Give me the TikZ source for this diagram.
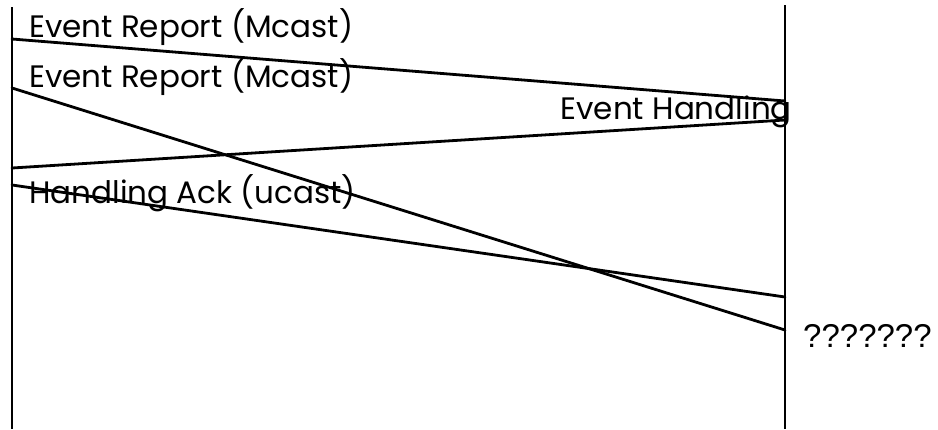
\documentclass[tikz,border=0pt]{standalone}
\usepackage{fontspec}
\setmainfont{Poppins}
\newfontfamily\qmarkfont{Liberation Sans}

\begin{document}
\begin{tikzpicture}[
  x=1pt,y=-1pt,
  every node/.style={inner sep=0pt,font=\fontsize{31}{36}\selectfont},
  life/.style={line width=2.8pt},
  msg/.style={line width=2.8pt,line cap=round},
  lbl/.style={anchor=base west},
  qlbl/.style={anchor=base west,font=\qmarkfont\fontsize{33}{38}\selectfont}
]
\useasboundingbox (0,0) rectangle (938,429);
% ================= lifelines =================
\coordinate (ltop) at (12,7);
\coordinate (lbot) at (12,429);
\coordinate (rtop) at (785,5);
\coordinate (rbot) at (785,429);
\draw[life] (ltop) -- (lbot);
\draw[life] (rtop) -- (rbot);
% ================= messages =================
\coordinate (l1) at (12,39);
\coordinate (l2) at (12,88);
\coordinate (l3) at (12,168);
\coordinate (l4) at (12,185);
\coordinate (r1) at (785,101);
\coordinate (r3) at (785,120);
\coordinate (r4) at (785,297);
\coordinate (r2) at (785,330);
\draw[msg] (l1) -- (r1);
\draw[msg] (l2) -- (r2);
\draw[msg] (r3) -- (l3);
\draw[msg] (l4) -- (r4);
% ================= labels =================
\node[lbl] (rep1) at (29,37) {Event Report (Mcast)};
\node[lbl] (rep2) at (29,87) {Event Report (Mcast)};
\node[lbl,anchor=base east] (hand) at (792,119) {Event Handling};
\node[lbl] (ack) at (29,203) {Handling Ack (ucast)};
\node[qlbl] (unk) at (803,347) {???????};
\end{tikzpicture}
\end{document}
